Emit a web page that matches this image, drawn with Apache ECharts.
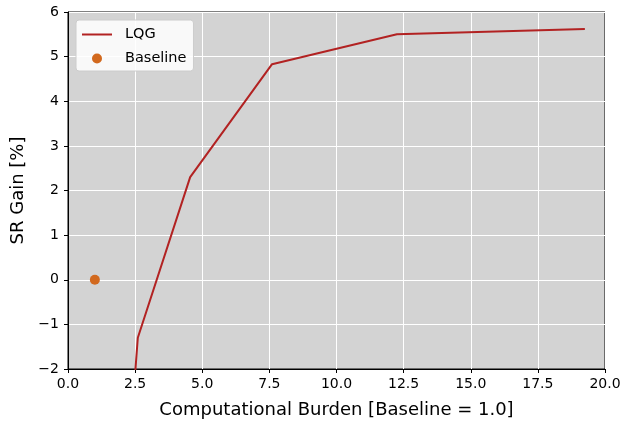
<!DOCTYPE html>
<html><head><meta charset="utf-8">
<script src="https://cdn.jsdelivr.net/npm/echarts@6/dist/echarts.min.js"></script>
<style>html,body{margin:0;padding:0;background:#fff}#c{width:625px;height:421px}</style>
</head><body><div id="c"></div>
<script>
const lqgX = [2.45, 2.6, 4.55, 7.6, 12.25, 19.25];
const lqgY = [-2.5, -1.3, 2.3, 4.83, 5.5, 5.62];
const baseX = [1.0];
const baseY = [0.0];
const xTicks = [0, 20, 2.5];
const yTicks = [-2, 6, 1];
const font = 'DejaVu Sans';
const chart = echarts.init(document.getElementById('c'));
chart.setOption({
  animation: false,
  textStyle: {fontFamily: font},
  grid: {left: 68, right: 20, top: 12, bottom: 52, show: true, backgroundColor: '#d3d3d3', borderColor: '#000', borderWidth: 1,
         outerBoundsMode: 'none', containLabel: false},
  legend: {
    left: 76, top: 20, orient: 'vertical', itemGap: 9, itemWidth: 30, itemHeight: 10,
    backgroundColor: 'rgba(255,255,255,0.85)', borderColor: '#cccccc', borderWidth: 1, borderRadius: 3,
    padding: [7, 7, 5, 6],
    textStyle: {fontFamily: font, fontSize: 14.5, color: '#000', padding: [0, 0, 0, 8]},
    data: [
      {name: 'LQG', icon: 'path://M0,0 H30 V2 H0 Z', itemStyle: {color: '#b22222'}},
      {name: 'Baseline', icon: 'circle', itemStyle: {color: '#d2691e'}}
    ]
  },
  xAxis: {
    type: 'value', min: xTicks[0], max: xTicks[1], interval: xTicks[2],
    name: 'Computational Burden [Baseline = 1.0]', nameLocation: 'middle', nameGap: 32,
    nameTextStyle: {fontFamily: font, fontSize: 18, color: '#000'},
    axisLine: {show: true, onZero: false, lineStyle: {color: '#000'}},
    axisTick: {show: true, length: 4, lineStyle: {color: '#000'}},
    axisLabel: {fontFamily: font, fontSize: 14, color: '#000', margin: 8, formatter: v => v.toFixed(1)},
    splitLine: {show: true, lineStyle: {color: '#fff', width: 1}}
  },
  yAxis: {
    type: 'value', min: yTicks[0], max: yTicks[1], interval: yTicks[2],
    name: 'SR Gain [%]', nameLocation: 'middle', nameGap: 40,
    nameTextStyle: {fontFamily: font, fontSize: 18, color: '#000'},
    axisLine: {show: true, onZero: false, lineStyle: {color: '#000'}},
    axisTick: {show: true, length: 4, lineStyle: {color: '#000'}},
    axisLabel: {fontFamily: font, fontSize: 14, color: '#000', margin: 9, formatter: v => v < 0 ? '\u2212' + Math.abs(v) : String(v)},
    splitLine: {show: true, lineStyle: {color: '#fff', width: 1}}
  },
  series: [
    {name: 'LQG', type: 'line', data: lqgX.map((x, i) => [x, lqgY[i]]), showSymbol: false, symbol: 'none', clip: true,
     lineStyle: {color: '#b22222', width: 2}, itemStyle: {color: '#b22222'}},
    {name: 'Baseline', type: 'scatter', data: baseX.map((x, i) => [x, baseY[i]]), symbolSize: 10,
     itemStyle: {color: '#d2691e', opacity: 1}}
  ]
});
</script></body></html>
